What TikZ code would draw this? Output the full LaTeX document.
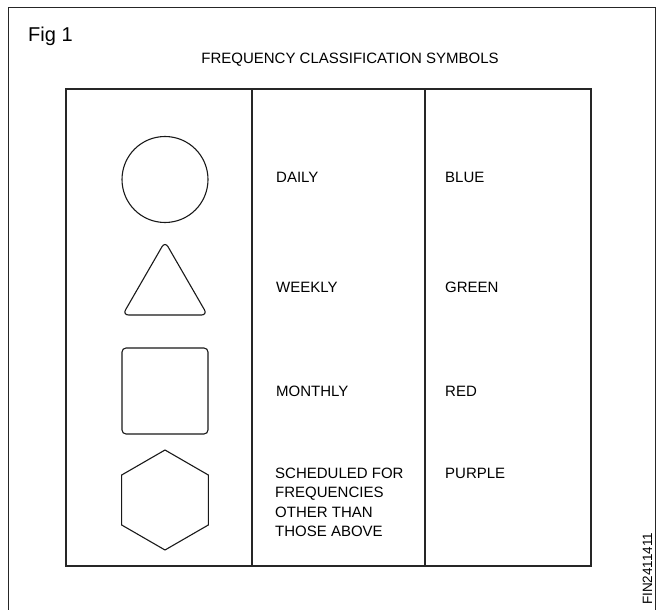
\documentclass[tikz,border=0pt]{standalone}
\usepackage{fontspec}
\setmainfont{Liberation Sans}
\usetikzlibrary{positioning, shapes.geometric}

\begin{document}
\begin{tikzpicture}[
    x=1pt, y=-1pt,
    rule/.style={draw=black!85, line width=1.1pt},
    symb/.style={draw=black!90, line width=1.1pt, inner sep=0pt},
    lbl/.style={anchor=west, inner sep=0pt, align=left,
                font=\fontsize{15}{19.5}\selectfont}
  ]
  \useasboundingbox (0,0) rectangle (665,610);

  % frame and table
  \draw[rule, line width=0.9pt] (8,610) |- (655,7) -- (655,610);
  \draw[rule] (66,89) rectangle (591,566);
  \draw[rule] (252,89) -- (252,566);
  \draw[rule] (425,89) -- (425,566);

  \node[anchor=base west, inner sep=0pt, font=\fontsize{20}{24}\selectfont]
    (fig) at (28,42) {Fig 1};
  \node[anchor=base, inner sep=0pt, font=\fontsize{15}{18}\selectfont]
    (title) at (350,64) {FREQUENCY CLASSIFICATION SYMBOLS};

  % symbols
  \node[symb, circle, minimum size=86pt] (daily) at (165,179.5) {};
  \node[symb, regular polygon, regular polygon sides=3,
        minimum size=98pt, rounded corners=6pt] (weekly) at (165,290.5) {};
  \node[symb, rectangle, rounded corners=4pt,
        minimum width=86pt, minimum height=86pt] (monthly) at (165,391) {};
  \node[symb, regular polygon, regular polygon sides=6,
        shape border rotate=30, minimum size=100pt] (other) at (165,500) {};

  % frequency column
  \node[lbl] (dailytxt)   at (276,177) {DAILY};
  \node[lbl] (weeklytxt)  at (276,287) {WEEKLY};
  \node[lbl] (monthlytxt) at (276,391) {MONTHLY};
  \node[lbl, anchor=north west] (othertxt) at (275,467.5)
    {SCHEDULED FOR\\FREQUENCIES\\OTHER THAN\\THOSE ABOVE};

  % colour column
  \node[lbl] (blue)   at (445,177) {BLUE};
  \node[lbl] (green)  at (445,287) {GREEN};
  \node[lbl] (red)    at (445,391) {RED};
  \node[lbl] (purple) at (445,473) {PURPLE};

  \node[anchor=base west, rotate=90, inner sep=0pt,
        font=\fontsize{13.5}{16}\selectfont] (code) at (652,605) {FIN2411411};
\end{tikzpicture}
\end{document}
